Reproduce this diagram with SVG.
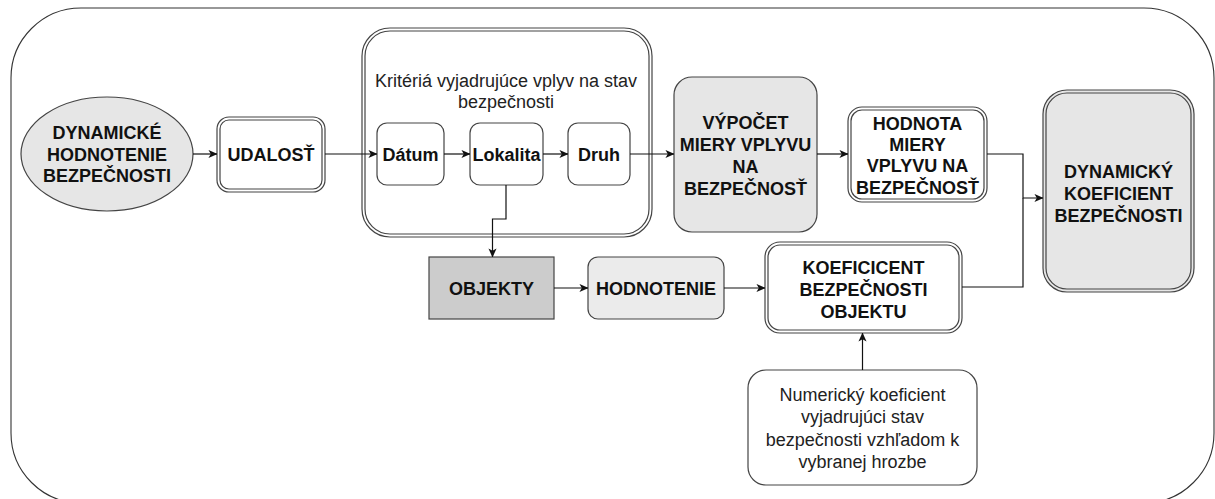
<svg xmlns="http://www.w3.org/2000/svg" width="1215" height="499" viewBox="0 0 1215 499">
  <defs>
    <marker id="arrow" viewBox="0 0 10 10" refX="9.5" refY="5" markerWidth="9" markerHeight="9" markerUnits="userSpaceOnUse" orient="auto">
      <path d="M0,0.5 L10,5 L0,9.5 L2.6,5 Z" fill="#111"/>
    </marker>
    <style>
      .frame { fill: #ffffff; stroke: #333333; stroke-width: 1.1; }
      .box { fill: #ffffff; stroke: #444444; stroke-width: 1.2; }
      .dbl { fill: none; stroke: #444444; stroke-width: 1.2; }
      .gray { fill: #e6e6e6; }
      .light { fill: #ebebeb; }
      .dark { fill: #cccccc; }
      .bold { font-family: "Liberation Sans", Arial, sans-serif; font-weight: bold; font-size: 18px; fill: #111111; text-anchor: middle; }
      .norm { font-family: "Liberation Sans", Arial, sans-serif; font-size: 18px; fill: #222222; text-anchor: middle; }
      .link { fill: none; stroke: #111111; stroke-width: 1.2; }
    </style>
  </defs>

  <rect width="1215" height="499" fill="#ffffff"/>

  <!-- outer frame -->
  <rect id="frame" class="frame" x="11" y="8" width="1203" height="495" rx="70" ry="70"/>

  <!-- start ellipse -->
  <g id="node-dynamicke-hodnotenie">
    <ellipse cx="107" cy="154" rx="86" ry="57" class="box gray"/>
    <text class="bold" x="107" y="139">DYNAMICKÉ</text>
    <text class="bold" x="107" y="160.5">HODNOTENIE</text>
    <text class="bold" x="107" y="182">BEZPEČNOSTI</text>
  </g>

  <!-- event -->
  <g id="node-udalost">
    <rect class="box" x="217" y="117" width="108" height="75" rx="12"/>
    <rect class="dbl" x="220" y="120" width="102" height="69" rx="9"/>
    <text class="bold" x="271" y="160.5">UDALOSŤ</text>
  </g>

  <!-- criteria container -->
  <g id="node-kriteria">
    <rect class="box" x="362" y="28" width="290" height="209" rx="28"/>
    <rect class="dbl" x="365" y="31" width="284" height="203" rx="25"/>
    <text class="norm" x="506" y="87">Kritériá vyjadrujúce vplyv na stav</text>
    <text class="norm" x="506" y="108">bezpečnosti</text>
  </g>

  <g id="node-datum">
    <rect class="box" x="377" y="123" width="67" height="62" rx="10"/>
    <text class="bold" x="410.5" y="160.5">Dátum</text>
  </g>

  <g id="node-lokalita">
    <rect class="box" x="470" y="123" width="73" height="62" rx="10"/>
    <text class="bold" x="506.5" y="160.5">Lokalita</text>
  </g>

  <g id="node-druh">
    <rect class="box" x="568" y="123" width="62" height="62" rx="10"/>
    <text class="bold" x="599" y="160.5">Druh</text>
  </g>

  <g id="node-vypocet">
    <rect class="box gray" x="674" y="77" width="143" height="155" rx="18"/>
    <text class="bold" x="745.5" y="128.5">VÝPOČET</text>
    <text class="bold" x="745.5" y="150.5">MIERY VPLYVU</text>
    <text class="bold" x="745.5" y="172.5">NA</text>
    <text class="bold" x="745.5" y="194.5">BEZPEČNOSŤ</text>
  </g>

  <g id="node-hodnota">
    <rect class="box" x="848" y="107" width="139" height="95" rx="14"/>
    <rect class="dbl" x="851" y="110" width="133" height="89" rx="11"/>
    <text class="bold" x="917.5" y="129.5">HODNOTA</text>
    <text class="bold" x="917.5" y="150.8">MIERY</text>
    <text class="bold" x="917.5" y="172">VPLYVU NA</text>
    <text class="bold" x="917.5" y="193.5">BEZPEČNOSŤ</text>
  </g>

  <g id="node-dynamicky-koeficient">
    <rect class="box gray" x="1043" y="90" width="151" height="202" rx="24"/>
    <rect class="dbl" x="1046" y="93" width="145" height="196" rx="21"/>
    <text class="bold" x="1118.5" y="178">DYNAMICKÝ</text>
    <text class="bold" x="1118.5" y="200">KOEFICIENT</text>
    <text class="bold" x="1118.5" y="222">BEZPEČNOSTI</text>
  </g>

  <g id="node-objekty">
    <rect class="box dark" x="429" y="257" width="125" height="62"/>
    <text class="bold" x="491.5" y="294.5">OBJEKTY</text>
  </g>

  <g id="node-hodnotenie">
    <rect class="box light" x="588" y="257" width="136" height="62" rx="10"/>
    <text class="bold" x="656" y="294.5">HODNOTENIE</text>
  </g>

  <g id="node-koeficient-objektu">
    <rect class="box" x="765" y="242" width="197" height="91" rx="15"/>
    <rect class="dbl" x="768" y="245" width="191" height="85" rx="12"/>
    <text class="bold" x="863.5" y="273.5">KOEFICICENT</text>
    <text class="bold" x="863.5" y="295.5">BEZPEČNOSTI</text>
    <text class="bold" x="863.5" y="317.5">OBJEKTU</text>
  </g>

  <g id="node-numericky">
    <rect class="box" x="748" y="370" width="229" height="115" rx="18"/>
    <text class="norm" x="862.5" y="401">Numerický koeficient</text>
    <text class="norm" x="862.5" y="423">vyjadrujúci stav</text>
    <text class="norm" x="862.5" y="445.5">bezpečnosti vzhľadom k</text>
    <text class="norm" x="862.5" y="468">vybranej hrozbe</text>
  </g>

  <!-- connectors -->
  <g id="connectors" class="link">
    <path d="M193,154 L217,154" marker-end="url(#arrow)"/>
    <path d="M325,154 L377,154" marker-end="url(#arrow)"/>
    <path d="M444,154 L470,154" marker-end="url(#arrow)"/>
    <path d="M543,154 L568,154" marker-end="url(#arrow)"/>
    <path d="M630,154 L674,154" marker-end="url(#arrow)"/>
    <path d="M817,154 L848,154" marker-end="url(#arrow)"/>
    <path d="M987,154 L1023,154 L1023,198 L1043,198" marker-end="url(#arrow)"/>
    <path d="M962,287 L1023,287 L1023,198"/>
    <path d="M506,185 L506,219 L492.5,219 L492.5,257" marker-end="url(#arrow)"/>
    <path d="M554,288 L588,288" marker-end="url(#arrow)"/>
    <path d="M724,288 L765,288" marker-end="url(#arrow)"/>
    <path d="M862.5,370 L862.5,333" marker-end="url(#arrow)"/>
  </g>
</svg>
